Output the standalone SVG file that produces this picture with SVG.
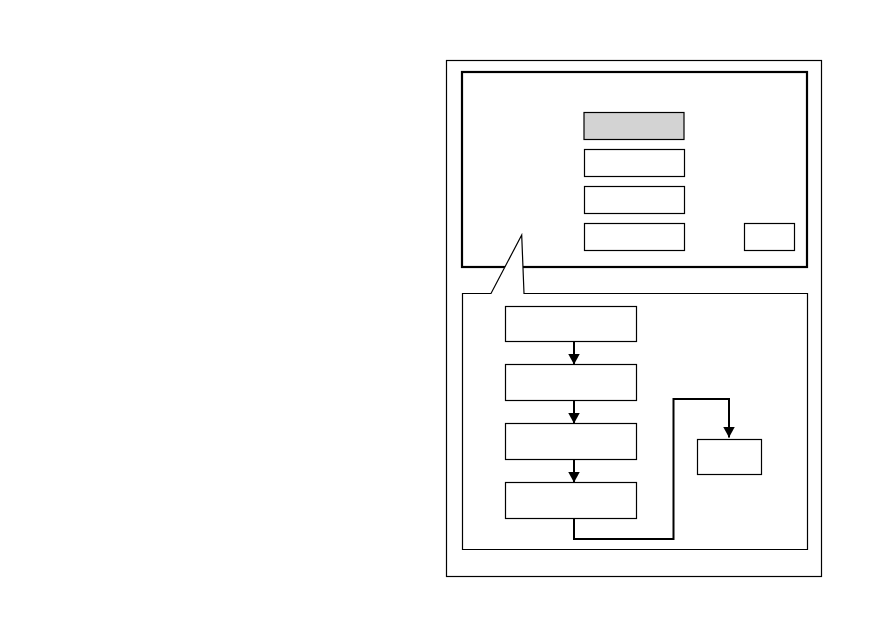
<svg xmlns="http://www.w3.org/2000/svg" width="882" height="636" viewBox="0 0 882 636">
<style>
.box{fill:#fff;stroke:#000;stroke-width:1.2}
.con{fill:none;stroke:#000;stroke-width:2}
</style>
<defs>
<marker id="ah" markerWidth="12" markerHeight="12" refX="11" refY="6" orient="auto" markerUnits="userSpaceOnUse">
<path d="M0,0 L11,6 L0,12 Z" fill="#000"/>
</marker>
</defs>
<rect width="882" height="636" fill="#fff"/>
<g id="frame"><rect x="446.5" y="60.5" width="375" height="516" fill="#fff" stroke="#000" stroke-width="1.2"/></g>
<g id="screen"><rect x="462" y="72" width="345" height="195" fill="#fff" stroke="#000" stroke-width="2.2"/></g>
<g id="menu1"><rect class="box" x="584" y="112.5" width="100" height="27" style="fill:#d3d3d3"/></g>
<g id="menu2"><rect class="box" x="584.5" y="149.5" width="100" height="27"/></g>
<g id="menu3"><rect class="box" x="584.5" y="186.5" width="100" height="27"/></g>
<g id="menu4"><rect class="box" x="584.5" y="223.5" width="100" height="27"/></g>
<g id="button"><rect class="box" x="744.5" y="223.5" width="50" height="27"/></g>
<g id="callout"><path d="M462.5,293.5 L491,293.5 L521.7,235 L524,293.5 L807.5,293.5 L807.5,549.5 L462.5,549.5 Z" fill="#fff" stroke="#000" stroke-width="1.2"/></g>
<g id="step1"><rect class="box" x="505.5" y="306.5" width="131" height="35"/></g>
<g id="step2"><rect class="box" x="505.5" y="364.5" width="131" height="36"/></g>
<g id="step3"><rect class="box" x="505.5" y="423.5" width="131" height="36"/></g>
<g id="step4"><rect class="box" x="505.5" y="482.5" width="131" height="36"/></g>
<g id="result"><rect class="box" x="697.5" y="439.5" width="64" height="35"/></g>
<g id="connectors">
<path class="con" d="M574,341.5 L574,364.5" marker-end="url(#ah)"/>
<path class="con" d="M574,400.5 L574,423.5" marker-end="url(#ah)"/>
<path class="con" d="M574,459.5 L574,482.5" marker-end="url(#ah)"/>
<path class="con" d="M574,518.5 L574,539 L673.5,539 L673.5,399 L729,399 L729,437.5" marker-end="url(#ah)"/>
</g>
</svg>
